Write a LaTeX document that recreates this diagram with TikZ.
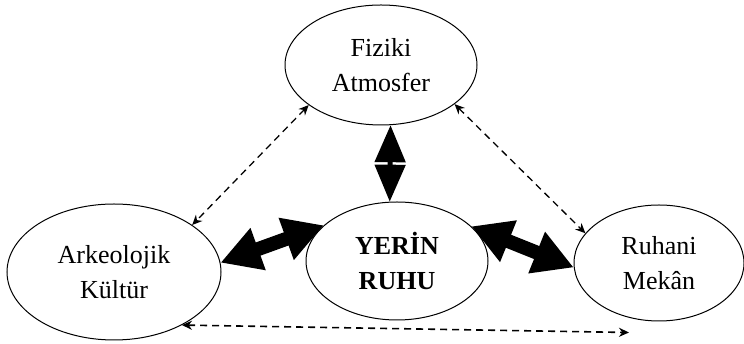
\documentclass[tikz,border=0pt]{standalone}
\usepackage{fontspec}
\setmainfont{Liberation Serif}
\usetikzlibrary{positioning,shapes.geometric,arrows.meta}
\tikzset{
  place/.style={draw,ellipse,line width=1pt,inner sep=0pt,align=center,
    font=\fontsize{26}{35}\selectfont},
  dlink/.style={dash pattern=on 7pt off 5pt,line width=1.3pt,
    {Stealth[length=10pt,width=9pt]}-{Stealth[length=10pt,width=9pt]}},
  blink/.style={line width=14pt,
    {Triangle[length=40pt,width=42pt]}-{Triangle[length=40pt,width=42pt]}},
  vlink/.style={line width=5pt,
    {Triangle[length=37pt,width=30pt]}-{Triangle[length=37pt,width=30pt]}},
}
\begin{document}
\begin{tikzpicture}
    \useasboundingbox (0pt,0pt) rectangle (744pt,344pt);

    \node[place,minimum width=182pt,minimum height=118pt] (yer) at (397pt,83pt) {\textbf{YERİN}\\\textbf{RUHU}};
    \node[place,minimum width=192pt,minimum height=120pt] (fiz) [above of=yer,node distance=196pt,xshift=-16pt] {Fiziki\\Atmosfer};
    \node[place,minimum width=214pt,minimum height=136pt] (ark) [left of=yer,node distance=283pt,yshift=-11pt] {Arkeolojik\\Kültür};
    \node[place,minimum width=170pt,minimum height=116pt] (ruh) [right of=yer,node distance=262pt,yshift=-2pt] {Ruhani\\Mekân};
    \coordinate (mk) at ([xshift=-30pt,yshift=-11pt]ruh.south);

    \draw[vlink] (fiz.279) -- (yer.97);
    \draw[blink] (yer.154) -- (ark.5);
    \draw[blink] (yer.25) -- (ruh.183);

    \draw[dlink] (fiz.209) -- (ark.31);
    \draw[dlink] (fiz.332) -- (ruh.158);
    \draw[dlink,line width=1.6pt] (ark.322) -- (mk);
\end{tikzpicture}
\end{document}
